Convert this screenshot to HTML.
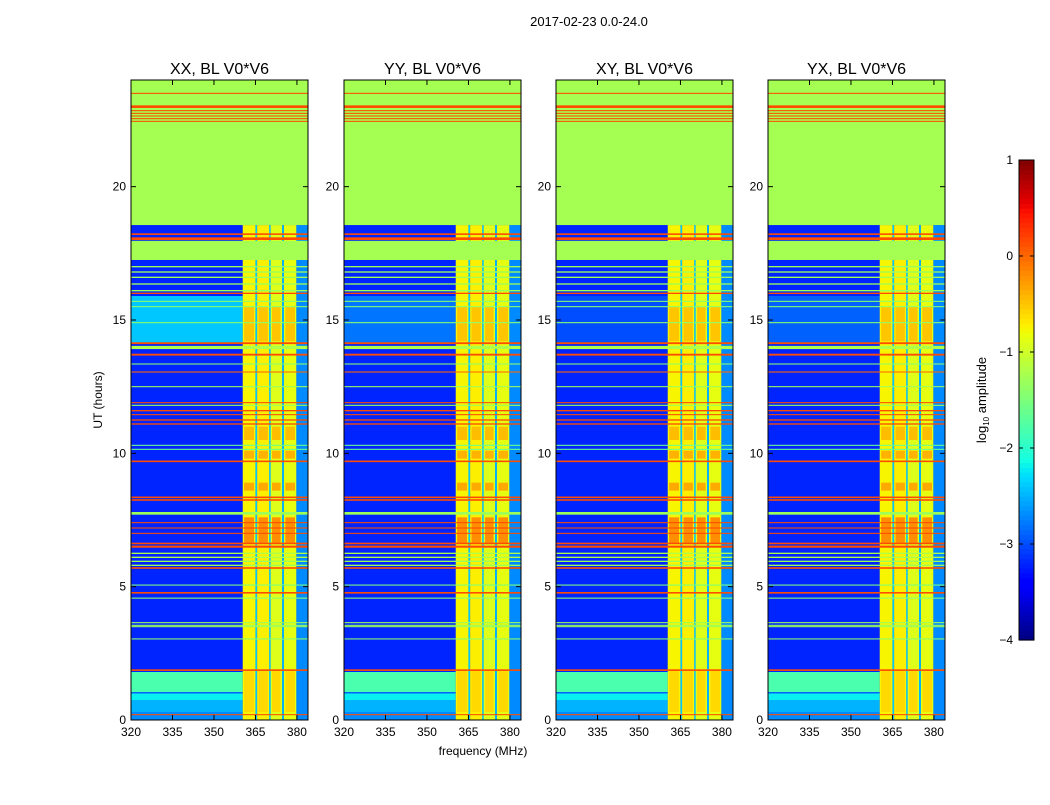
<!DOCTYPE html>
<html><head><meta charset="utf-8">
<style>
html,body{margin:0;padding:0;background:#fff;}
svg text{font-family:"Liberation Sans",sans-serif;fill:#000;}
</style></head>
<body>
<svg id="fig" width="1050" height="800" viewBox="0 0 1050 800" xmlns="http://www.w3.org/2000/svg">
<rect x="0" y="0" width="1050" height="800" fill="#fff"/>
<text x="589" y="26" font-size="13" text-anchor="middle">2017-02-23 0.0-24.0</text>
<text x="483" y="755" font-size="12" text-anchor="middle">frequency (MHz)</text>
<text transform="translate(102,400) rotate(-90)" font-size="12" text-anchor="middle">UT (hours)</text>
<text transform="translate(986,400) rotate(-90)" font-size="13" text-anchor="middle">log<tspan font-size="8" dy="3">10</tspan><tspan dy="-3"> amplitude</tspan></text>
<g id="panels"></g>
<g id="cbar"></g>
</svg>
<script>
// ---- data ----
const panelTitles = ["XX, BL V0*V6","YY, BL V0*V6","XY, BL V0*V6","YX, BL V0*V6"];
const xTicks = [320,335,350,365,380];
const yTicks = [0,5,10,15,20];
const cbTicks = [1,0,-1,-2,-3,-4];
const baseValue = -3.2;
// low-frequency region bands: [tStart, tEnd, value] (freq 320-360)
const lowBands = [[0.0,0.3,-2.7],[0.3,0.75,-2.5],[0.75,1.0,-2.2],[1.0,1.05,-2.9],[1.05,1.8,-1.8]];
// panel-specific extra low bands
const xxBands = [[14.1,15.9,-2.4]];
const yyBands = [[14.1,15.9,-2.8]];
const xyBands = [[14.1,15.9,-3.0]];
const yxBands = [[14.1,15.9,-2.9]];
// RFI columns: [fStart, fEnd, value]
const columns = [[360.4,365.0,-0.75],[365.0,365.6,-2.4],[365.6,370.0,-0.72],[370.0,370.5,-2.3],[370.5,374.6,-0.9],[374.6,375.3,-2.5],[375.3,379.8,-0.85],[379.8,384.0,-2.7]];
// hot blocks in columns: [tStart, tEnd, value]
const hotBlocks = [[6.6,7.6,-0.2],[8.6,8.9,-0.35],[9.8,10.1,-0.4],[10.5,11.0,-0.45],[14.2,15.5,-0.5],[0.3,1.9,-0.6]];
// horizontal lines: [time, thickness(h), value]
const greenLines = [[17.0,0.05,-1.3],[16.8,0.05,-1.3],[16.6,0.05,-1.3],[16.35,0.05,-1.3],[16.1,0.05,-1.3],[15.7,0.04,-1.4],[15.5,0.04,-1.4],[14.9,0.04,-1.4],[13.97,0.12,-1.2],[13.35,0.04,-1.4],[12.5,0.04,-1.3],[11.8,0.04,-1.3],[10.3,0.04,-1.6],[10.15,0.04,-1.6],[7.75,0.1,-1.3],[6.25,0.05,-1.2],[6.1,0.05,-1.2],[5.95,0.05,-1.3],[5.8,0.05,-1.3],[5.06,0.04,-1.5],[4.57,0.04,-1.4],[3.65,0.04,-1.3],[3.55,0.04,-1.3],[3.5,0.04,-1.3],[3.04,0.04,-1.4]];
const redLines = [[23.5,0.04,0.15],[23.0,0.1,0.15],[22.85,0.04,0.15],[22.75,0.04,0.15],[22.65,0.04,0.15],[22.55,0.04,0.15],[22.45,0.04,0.15],[18.22,0.06,0.15],[18.05,0.1,0.15],[16.0,0.05,0.15],[14.13,0.07,0.15],[13.7,0.07,0.15],[13.05,0.04,0.0],[11.9,0.04,0.15],[11.6,0.05,0.15],[11.45,0.04,0.15],[11.25,0.05,0.15],[11.1,0.05,0.15],[9.7,0.06,0.15],[8.35,0.06,0.15],[8.25,0.06,0.15],[7.4,0.04,0.15],[7.2,0.04,0.15],[7.0,0.04,0.15],[6.62,0.06,0.15],[6.5,0.08,0.15],[5.7,0.06,0.15],[4.77,0.06,0.15],[1.87,0.06,0.15],[0.2,0.04,0.15]];
// flagged bands: [tStart, tEnd, value]
const flagged = [[18.56,24.0,-1.25],[17.25,17.97,-1.25]];

// ---- layout ----
const panelLeft = [131,344,556,768];
const PW = 177, PT = 80, PB = 720;
const fMin = 320, fMax = 384, tMin = 0, tMax = 24;
function xScale(p,f){return panelLeft[p] + (f-fMin)/(fMax-fMin)*PW;}
function yScale(t){return PB - (t-tMin)/(tMax-tMin)*(PB-PT);}
function jet(v){
  let t = Math.max(0,Math.min(1,(v+4)/5));
  function seg(pts){for(let i=1;i<pts.length;i++){if(t<=pts[i][0]){const a=pts[i-1],b=pts[i];return a[1]+(b[1]-a[1])*(t-a[0])/(b[0]-a[0]);}}return pts[pts.length-1][1];}
  const r=seg([[0,0],[0.35,0],[0.66,1],[0.89,1],[1,0.5]]);
  const g=seg([[0,0],[0.125,0],[0.375,1],[0.64,1],[0.91,0],[1,0]]);
  const b=seg([[0,0.5],[0.11,1],[0.34,1],[0.65,0],[1,0]]);
  return `rgb(${Math.round(r*255)},${Math.round(g*255)},${Math.round(b*255)})`;
}
const NS="http://www.w3.org/2000/svg";
function mk(tag,attrs,parent){const e=document.createElementNS(NS,tag);for(const k in attrs)e.setAttribute(k,attrs[k]);parent.appendChild(e);return e;}
function cell(g,p,f0,f1,t0,t1,v,name){
  const x0=xScale(p,f0),x1=xScale(p,f1),y0=yScale(t1),y1=yScale(t0);
  const r=mk('rect',{x:x0,y:y0,width:Math.max(0.5,x1-x0),height:Math.max(0.8,y1-y0),fill:jet(v)},g);
  
  
}
const extra=[xxBands,yyBands,xyBands,yxBands];
const panelsG=document.getElementById('panels');
for(let p=0;p<4;p++){
  const g=mk('g',{},panelsG);
  
  
  cell(g,p,fMin,fMax,tMin,tMax,baseValue,'background-cell');
  lowBands.concat(extra[p]).forEach(b=>cell(g,p,fMin,360.4,b[0],b[1],b[2],'low-band'));
  columns.forEach(c=>cell(g,p,c[0],c[1],tMin,18.56,c[2],'rfi-column'));
  hotBlocks.forEach(h=>{[0,2,4,6].forEach(ci=>{const c=columns[ci];cell(g,p,c[0]+0.5,c[1]-0.5,h[0],h[1],h[2],'hot-block');});});
  greenLines.forEach(l=>cell(g,p,fMin,fMax,l[0]-l[1]/2,l[0]+l[1]/2,l[2],'green-line'));
  flagged.forEach(b=>cell(g,p,fMin,fMax,b[0],b[1],b[2],'flagged-band'));
  redLines.forEach(l=>cell(g,p,fMin,fMax,l[0]-l[1]/2,l[0]+l[1]/2,l[2],'red-line'));
  const fr=mk('rect',{x:panelLeft[p],y:PT,width:PW,height:PB-PT,fill:'none',stroke:'#000','stroke-width':1},g);
  
  
  const tt=mk('text',{x:panelLeft[p]+PW/2,y:74,'font-size':16,'text-anchor':'middle'},g);
  tt.textContent=panelTitles[p];
  
  
  xTicks.forEach(v=>{const x=xScale(p,v);
    mk('line',{x1:x,x2:x,y1:PB,y2:PB-5,stroke:'#000'},g);mk('line',{x1:x,x2:x,y1:PT,y2:PT+5,stroke:'#000'},g);
    const t=mk('text',{x:x,y:PB+16,'font-size':12,'text-anchor':'middle'},g);t.textContent=v;
    
    });
  yTicks.forEach(v=>{const y=yScale(v);
    mk('line',{x1:panelLeft[p],x2:panelLeft[p]+5,y1:y,y2:y,stroke:'#000'},g);mk('line',{x1:panelLeft[p]+PW,x2:panelLeft[p]+PW-5,y1:y,y2:y,stroke:'#000'},g);
    const t=mk('text',{x:panelLeft[p]-5,y:y+4,'font-size':12,'text-anchor':'end'},g);t.textContent=v;
    
    });
}
// colorbar
const cb=document.getElementById('cbar');


const CX=1019,CW=15,CT=160,CB=640,vMax=1,vMin=-4;
function cy(v){return CB-(v-vMin)/(vMax-vMin)*(CB-CT);}
for(let i=0;i<100;i++){const v0=vMin+i*(vMax-vMin)/100,v1=v0+(vMax-vMin)/100;
  mk('rect',{x:CX,y:cy(v1),width:CW,height:cy(v0)-cy(v1)+0.6,fill:jet((v0+v1)/2)},cb);}
mk('rect',{x:CX,y:CT,width:CW,height:CB-CT,fill:'none',stroke:'#000'},cb);
cbTicks.forEach(v=>{const y=cy(v);
  mk('line',{x1:CX,x2:CX+4,y1:y,y2:y,stroke:'#000'},cb);mk('line',{x1:CX+CW,x2:CX+CW-4,y1:y,y2:y,stroke:'#000'},cb);
  const t=mk('text',{x:1013,y:y+4,'font-size':12,'text-anchor':'end'},cb);t.textContent=(v<0?'\u2212'+(-v):v);
  
  });
</script>
</body></html>
